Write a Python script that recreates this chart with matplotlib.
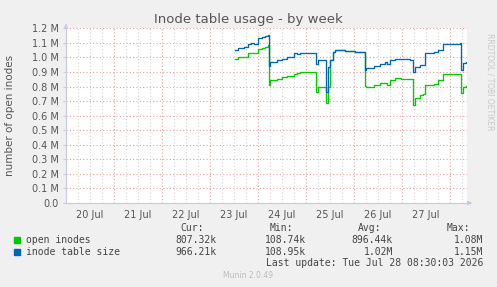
import matplotlib
matplotlib.use("Agg")
import matplotlib.pyplot as plt
import numpy as np

# time in days since 20 Jul 00:00
t = [3.52, 3.59, 3.70, 3.80, 3.85, 3.91, 3.96, 3.99, 4.08, 4.15, 4.20, 4.22, 4.24, 4.39,
     4.50, 4.60, 4.74, 4.81, 4.88, 4.98, 5.12, 5.21, 5.24, 5.37, 5.42, 5.45, 5.51, 5.56,
     5.61, 5.71, 5.82, 6.03, 6.20, 6.22, 6.24, 6.41, 6.55, 6.64, 6.69, 6.76, 6.86, 6.97,
     7.07, 7.17, 7.22, 7.28, 7.38, 7.44, 7.47, 7.66, 7.76, 7.86, 8.01, 8.20, 8.23, 8.27, 8.34]

inode_table_size = [1.054, 1.068, 1.072, 1.090, 1.100, 1.090, 1.095, 1.130, 1.140, 1.145, 1.152,
                    0.940, 0.969, 0.980, 0.990, 1.003, 1.027, 1.025, 1.030, 1.028, 1.027, 0.958,
                    0.980, 0.980, 0.764, 0.935, 0.980, 1.038, 1.049, 1.049, 1.045, 1.040, 1.034,
                    0.912, 0.928, 0.940, 0.958, 0.969, 0.955, 0.980, 0.992, 0.988, 0.988, 0.980,
                    0.900, 0.935, 0.945, 0.950, 1.027, 1.034, 1.049, 1.095, 1.095, 1.100, 0.917,
                    0.962, 0.966]

open_inodes = [0.988, 1.000, 1.005, 1.027, 1.027, 1.027, 1.030, 1.061, 1.065, 1.070, 1.083,
               0.809, 0.843, 0.850, 0.866, 0.870, 0.889, 0.895, 0.900, 0.898, 0.900, 0.764,
               0.798, 0.798, 0.688, 0.800, 0.980, 1.038, 1.049, 1.049, 1.045, 1.040, 1.034,
               0.802, 0.798, 0.810, 0.821, 0.826, 0.810, 0.848, 0.862, 0.855, 0.855, 0.850,
               0.672, 0.718, 0.741, 0.750, 0.809, 0.820, 0.843, 0.889, 0.889, 0.889, 0.757,
               0.800, 0.807]

day_labels = ["20 Jul", "21 Jul", "22 Jul", "23 Jul", "24 Jul", "25 Jul", "26 Jul", "27 Jul"]
ytick_labels = ["0.0", "0.1 M", "0.2 M", "0.3 M", "0.4 M", "0.5 M", "0.6 M", "0.7 M",
                "0.8 M", "0.9 M", "1.0 M", "1.1 M", "1.2 M"]

legend_names = ["open inodes", "inode table size"]
cur = ["807.32k", "966.21k"]
mins = ["108.74k", "108.95k"]
avg = ["896.44k", "1.02M"]
mx = ["1.08M", "1.15M"]
colors = ["#00CC00", "#0066B3"]

W, H = 497, 287
fig = plt.figure(figsize=(W / 100, H / 100), dpi=100, facecolor="#F0F0F0")
x0, x1, y0, y1 = 66, 467, 203, 28.3
ax = fig.add_axes([x0 / W, 1 - y0 / H, (x1 - x0) / W, (y0 - y1) / H])
ax.set_facecolor("white")
xmax = 8.354
ax.set_xlim(0, xmax)
ax.set_ylim(0, 1.2)

# grid
for h in np.arange(0.25, xmax, 0.25):
    if abs(h - round(h)) < 1e-6:
        ax.axvline(h, color="#E8A0A0", lw=0.8, ls=(0, (1, 2)), zorder=1)
    else:
        ax.axvline(h, color="#D4D4D4", lw=0.8, ls=(0, (1, 2)), zorder=1)
for v in np.arange(0.1, 1.21, 0.1):
    ax.axhline(v, color="#E8A0A0", lw=0.8, ls=(0, (1, 2)), zorder=1)

ax.plot(t, open_inodes, color=colors[0], lw=0.95, drawstyle="steps-post", zorder=3)
ax.plot(t, inode_table_size, color=colors[1], lw=0.95, drawstyle="steps-post", zorder=4)

for s in ["top", "right"]:
    ax.spines[s].set_visible(False)
for s in ["left", "bottom"]:
    ax.spines[s].set_color("#C8C8E8")
    ax.spines[s].set_linewidth(0.8)
ax.set_yticks(np.arange(0, 1.21, 0.1))
ax.set_yticklabels(ytick_labels)
ax.set_xticks(np.arange(0.5, 8, 1.0))
ax.set_xticklabels(day_labels)
ax.tick_params(axis="both", length=2, color="#C8C8E8", labelsize=7, labelcolor="#555555", pad=3)
ax.tick_params(axis="x", length=0, pad=5)

# axis arrows
ax.annotate("", xy=(x0 / W, 1 - 21 / H), xytext=(x0 / W, 1 - y1 / H), xycoords="figure fraction",
            arrowprops=dict(arrowstyle="-|>", color="#C8C8E8", lw=0.8, mutation_scale=6))
ax.annotate("", xy=(472 / W, 1 - y0 / H), xytext=(x1 / W, 1 - y0 / H), xycoords="figure fraction",
            arrowprops=dict(arrowstyle="-|>", color="#C8C8E8", lw=0.8, mutation_scale=6))

fig.text(248 / W, 1 - 19 / H, "Inode table usage - by week", ha="center", va="center",
         fontsize=9.5, color="#555555")
fig.text(10 / W, 1 - 115 / H, "number of open inodes", rotation=90, ha="center", va="center",
         fontsize=7.5, color="#555555")
fig.text(490 / W, 1 - 82 / H, "RRDTOOL / TOBI OETIKER", rotation=270, ha="center", va="center",
         fontsize=5.5, color="#C8C8C8")

mono = "DejaVu Sans Mono"
fs = 7
tc = "#444444"
hy = 228.3
for xr, lab in zip([204, 293, 381, 470], ["Cur:", "Min:", "Avg:", "Max:"]):
    fig.text(xr / W, 1 - hy / H, lab, ha="right", va="center", family=mono, fontsize=fs, color=tc)
for i, ry in enumerate([240, 251.7]):
    fig.patches.append(plt.Rectangle(((14) / W, 1 - (ry + 3) / H), 6 / W, 6 / H,
                                     transform=fig.transFigure, color=colors[i]))
    fig.text(26 / W, 1 - ry / H, legend_names[i], ha="left", va="center", family=mono, fontsize=fs, color=tc)
    for xr, val in zip([217, 306, 393, 483], [cur[i], mins[i], avg[i], mx[i]]):
        fig.text(xr / W, 1 - ry / H, val, ha="right", va="center", family=mono, fontsize=fs, color=tc)
fig.text(483 / W, 1 - 263.5 / H, "Last update: Tue Jul 28 08:30:03 2026", ha="right", va="center",
         family=mono, fontsize=fs, color=tc)
fig.text(248 / W, 1 - 276 / H, "Munin 2.0.49", ha="center", va="center", fontsize=5.5, color="#BBBBBB")

fig.savefig("out.png", dpi=100, facecolor=fig.get_facecolor())
